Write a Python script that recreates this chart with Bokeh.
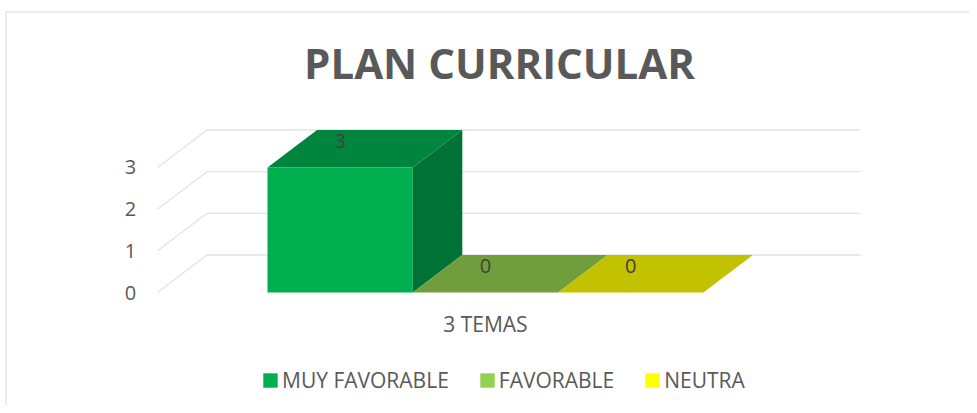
from bokeh.plotting import figure
from bokeh.models import Range1d, Legend, LegendItem
from bokeh.embed import file_html
from bokeh.resources import INLINE
from bokeh.core.properties import value

# ---------------- data ----------------
title_text = "PLAN CURRICULAR"
category = "3 TEMAS"
series = ["MUY FAVORABLE", "FAVORABLE", "NEUTRA"]
values = [3, 0, 0]
y_ticks = [0, 1, 2, 3]

# ---------------- styles ----------------
legend_colors = ["#00B050", "#92D050", "#FFFF00"]
front_colors = ["#00B050", "#92D050", "#FFFF00"]
top_colors = ["#00863C", "#709E3C", "#C2C200"]
side_colors = ["#007235", "#5A8030", "#9C9C00"]
text_color = "#595959"
grid_color = "#E3E3E3"
FONT = "Open Sans"

W, H = 969, 405
PX_X = 145.3      # px per series slot
PX_Y = 41.67      # px per value unit
X0, Y0 = 267, 292  # canvas position of (x=0, value=0)
x_range = Range1d(-X0 / PX_X, (W - X0) / PX_X)
y_range = Range1d((Y0 - H) / PX_Y, Y0 / PX_Y)
DX = 49.5 / PX_X   # depth offset (x)
DY = 37.5 / PX_Y   # depth offset (y)
WALL_L = -110 / PX_X
WALL_R = (860 - X0) / PX_X - DX

p = figure(width=W, height=H, x_range=x_range, y_range=y_range,
           output_backend="svg", toolbar_location=None,
           min_border=0, outline_line_color=None)
p.axis.visible = False
p.grid.visible = False
p.background_fill_color = "white"

# chart border (top & left)
bx = x_range.start + 5.5 / PX_X
by = y_range.end - 11.5 / PX_Y
p.line([bx, x_range.end], [by, by], line_color="#D9D9D9", line_width=1)
p.line([bx, bx], [y_range.start, by], line_color="#D9D9D9", line_width=1)

# 3D gridlines: floor diagonal + back wall
gxs = [[WALL_L, WALL_L + DX, WALL_R + DX] for v in y_ticks]
gys = [[v, v + DY, v + DY] for v in y_ticks]
p.multi_line(gxs, gys, line_color=grid_color, line_width=1.3)

# bars
for i, v in enumerate(values):
    p.patch([i, i + 1, i + 1 + DX, i + DX], [v, v, v + DY, v + DY],
            fill_color=top_colors[i], line_color=None)
    if v > 0:
        p.patch([i, i + 1, i + 1, i], [0, 0, v, v], fill_color=front_colors[i], line_color=None)
        p.patch([i + 1, i + 1 + DX, i + 1 + DX, i + 1], [0, DY, v + DY, v],
                fill_color=side_colors[i], line_color=None)

# data labels
p.text(x=[i + 0.5 for i in range(len(values))], y=[v + 0.7 * DY for v in values],
       text=[str(v) for v in values], text_align="center", text_baseline="middle",
       text_font=value(FONT), text_font_size="20px", text_color="#404040")

# y tick labels
p.text(x=[-137 / PX_X] * len(y_ticks), y=y_ticks, text=[str(t) for t in y_ticks],
       text_align="center", text_baseline="middle",
       text_font=value(FONT), text_font_size="20px", text_color=text_color)

# category label
p.text(x=[len(values) / 2], y=[-0.75], text=[category], text_align="center",
       text_baseline="middle", text_font=value(FONT), text_font_size="21px", text_color=text_color)

# title
p.text(x=[232 / PX_X], y=[230 / PX_Y], text=[title_text], text_align="center", text_baseline="middle",
       text_font=value(FONT), text_font_size="42px", text_font_style="bold", text_color=text_color)

# legend (swatch renderers are degenerate, zero-size quads)
items = []
for name, c in zip(series, legend_colors):
    r = p.quad(left=[0], right=[0], top=[0], bottom=[0], fill_color=c, line_color=None)
    items.append(LegendItem(label=name, renderers=[r]))
legend = Legend(items=items, orientation="horizontal", location=(261, 11),
                glyph_width=18, glyph_height=18, label_standoff=3, spacing=29,
                padding=0, margin=0, border_line_color=None, background_fill_alpha=0,
                label_text_font=FONT, label_text_font_size="21px", label_text_color=text_color)
p.add_layout(legend)

open("out.html", "w").write(file_html(p, INLINE))
